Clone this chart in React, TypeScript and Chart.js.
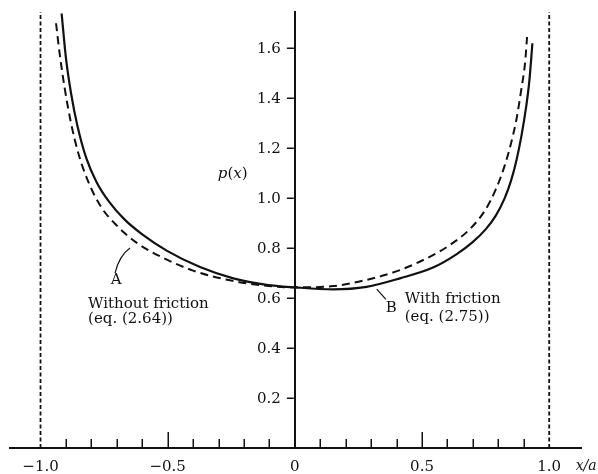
import React, { useEffect, useRef } from 'react';
import { Chart, registerables } from 'chart.js';

Chart.register(...registerables);

// Curve A: without friction (dashed), eq. (2.64)
const noFrictionX = [-0.939, -0.925, -0.905, -0.88, -0.85, -0.81, -0.76, -0.70, -0.62, -0.52, -0.40, -0.26, -0.12, 0, 0.15, 0.278, 0.413, 0.543, 0.609, 0.69, 0.75, 0.79, 0.825, 0.85, 0.872, 0.891, 0.905, 0.913];
const noFrictionY = [1.70, 1.58, 1.44, 1.30, 1.175, 1.06, 0.962, 0.89, 0.82, 0.762, 0.71, 0.672, 0.65, 0.643, 0.648, 0.672, 0.712, 0.772, 0.812, 0.878, 0.955, 1.035, 1.13, 1.22, 1.32, 1.44, 1.54, 1.645];

// Curve B: with friction (solid), eq. (2.75)
const frictionX = [-0.917, -0.90, -0.88, -0.855, -0.82, -0.78, -0.73, -0.67, -0.60, -0.504, -0.373, -0.242, -0.111, 0, 0.15, 0.282, 0.413, 0.543, 0.635, 0.70, 0.75, 0.79, 0.825, 0.85, 0.872, 0.891, 0.91, 0.922, 0.934];
const frictionY = [1.739, 1.56, 1.42, 1.29, 1.16, 1.065, 0.985, 0.915, 0.855, 0.79, 0.724, 0.679, 0.653, 0.643, 0.635, 0.645, 0.679, 0.722, 0.775, 0.825, 0.875, 0.93, 1.0, 1.07, 1.155, 1.25, 1.37, 1.47, 1.62];

// Contact edges x/a = ±1
const boundaryX = [-1, 1];

// Axes
const xTickValues = [-1.0, -0.5, 0, 0.5, 1.0];
const xMinorTicks = [-0.9, -0.8, -0.7, -0.6, -0.5, -0.4, -0.3, -0.2, -0.1, 0.1, 0.2, 0.3, 0.4, 0.5, 0.6, 0.7, 0.8, 0.9];
const yTickValues = [0.2, 0.4, 0.6, 0.8, 1.0, 1.2, 1.4, 1.6];
const X_MIN = -1.12;
const X_MAX = 1.125;
const Y_MIN = 0;
const Y_MAX = 1.745;

const INK = '#111111';
const FONT = '"DejaVu Serif", "Liberation Serif", serif';

const zip = (xs: number[], ys: number[]) => xs.map((x, i) => ({ x, y: ys[i] }));

const fmtX = (v: number) => {
  if (Math.abs(v) < 1e-9) return '0';
  return (v < 0 ? '\u2212' : '') + Math.abs(v).toFixed(1);
};

const annotationPlugin = {
  id: 'annotations',
  afterDraw(chart: any) {
    const { ctx, scales } = chart;
    const xs = scales.x;
    const ys = scales.y;
    const px = (v: number) => xs.getPixelForValue(v);
    const py = (v: number) => ys.getPixelForValue(v);
    ctx.save();
    ctx.strokeStyle = INK;
    ctx.fillStyle = INK;

    // upward tick marks on the x axis
    const y0 = py(0);
    ctx.lineWidth = 1.5;
    xMinorTicks.forEach((v) => {
      const len = Math.abs(Math.abs(v) - 0.5) < 1e-6 ? 16 : 9;
      const xp = Math.round(px(v)) + 0.25;
      ctx.beginPath();
      ctx.moveTo(xp, y0);
      ctx.lineTo(xp, y0 - len);
      ctx.stroke();
    });

    // y tick marks and labels, to the left of the axis at x = 0
    const axisX = px(0);
    ctx.font = `15px ${FONT}`;
    ctx.textAlign = 'right';
    ctx.textBaseline = 'middle';
    ys.ticks.forEach((t: any) => {
      const yp = Math.round(py(t.value)) + 0.25;
      ctx.beginPath();
      ctx.moveTo(axisX - 1, yp);
      ctx.lineTo(axisX - 8, yp);
      ctx.stroke();
      ctx.fillText(Number(t.value).toFixed(1), axisX - 14, py(t.value) + 1);
    });

    // leader lines
    ctx.lineWidth = 1.2;
    ctx.beginPath();
    ctx.moveTo(px(-0.707), py(0.70));
    ctx.quadraticCurveTo(px(-0.69), py(0.77), px(-0.648), py(0.80));
    ctx.stroke();
    ctx.beginPath();
    ctx.moveTo(px(0.358), py(0.595));
    ctx.lineTo(px(0.322), py(0.636));
    ctx.stroke();

    // text
    ctx.textBaseline = 'alphabetic';
    ctx.font = `15px ${FONT}`;
    ctx.textAlign = 'center';
    ctx.fillText('A', px(-0.703), py(0.656));
    ctx.fillText('B', px(0.379), py(0.545));
    ctx.textAlign = 'left';
    ctx.fillText('Without friction', px(-0.813), py(0.56));
    ctx.fillText('(eq. (2.64))', px(-0.813), py(0.502));
    ctx.fillText('With friction', px(0.432), py(0.581));
    ctx.fillText('(eq. (2.75))', px(0.432), py(0.509));

    // mixed italic labels
    const drawSegments = (segs: [string, boolean][], x: number, y: number, size: number) => {
      let cx = x;
      segs.forEach(([t, it]) => {
        ctx.font = `${it ? 'italic ' : ''}${size}px ${FONT}`;
        ctx.fillText(t, cx, y);
        cx += ctx.measureText(t).width;
      });
    };
    ctx.textAlign = 'left';
    drawSegments([['p', true], ['(', false], ['x', true], [')', false]], px(-0.303), py(1.08), 15);
    drawSegments([['x/a', true]], px(1.104), py(-0.088), 14);
    ctx.restore();
  },
};

export default function App() {
  const ref = useRef<HTMLCanvasElement>(null);
  useEffect(() => {
    if (!ref.current) return;
    const boundarySets = boundaryX.map((bx) => ({
      label: `edge ${bx}`,
      data: [{ x: bx, y: Y_MIN }, { x: bx, y: Y_MAX }],
      borderColor: INK,
      borderWidth: 1.8,
      borderDash: [4, 2.5],
      pointRadius: 0,
      tension: 0,
    }));
    const chart = new Chart(ref.current, {
      type: 'line',
      data: {
        datasets: [
          {
            label: 'Without friction (eq. (2.64))',
            data: zip(noFrictionX, noFrictionY),
            borderColor: INK,
            borderWidth: 2,
            borderDash: [8, 5],
            pointRadius: 0,
            cubicInterpolationMode: 'monotone',
          },
          {
            label: 'With friction (eq. (2.75))',
            data: zip(frictionX, frictionY),
            borderColor: INK,
            borderWidth: 2.2,
            pointRadius: 0,
            cubicInterpolationMode: 'monotone',
          },
          ...boundarySets,
        ] as any,
      },
      options: {
        responsive: false,
        animation: false,
        layout: { padding: { left: 10, right: 17, top: 12, bottom: 26 } },
        plugins: { legend: { display: false }, tooltip: { enabled: false }, title: { display: false } },
        scales: {
          x: {
            type: 'linear',
            min: X_MIN,
            max: X_MAX,
            position: { y: 0 } as any,
            afterBuildTicks: (s: any) => {
              s.ticks = xTickValues.map((value) => ({ value }));
            },
            grid: { display: false, drawTicks: false },
            border: { display: true, color: INK, width: 2 },
            ticks: {
              autoSkip: false,
              maxRotation: 0,
              padding: 10,
              color: INK,
              font: { family: FONT, size: 15 },
              callback: (v: any) => fmtX(Number(v)),
            },
          },
          y: {
            type: 'linear',
            min: Y_MIN,
            max: Y_MAX,
            position: { x: 0 } as any,
            afterBuildTicks: (s: any) => {
              s.ticks = yTickValues.map((value) => ({ value }));
            },
            grid: { display: false, drawTicks: false },
            border: { display: true, color: INK, width: 2 },
            ticks: { display: false },
          },
        },
      } as any,
      plugins: [annotationPlugin],
    });
    return () => chart.destroy();
  }, []);
  return (
    <div style={{ position: 'fixed', left: 0, top: 0, width: 598, height: 474, background: '#fff' }}>
      <canvas ref={ref} width={598} height={474} style={{ display: 'block', width: 598, height: 474 }} />
    </div>
  );
}
